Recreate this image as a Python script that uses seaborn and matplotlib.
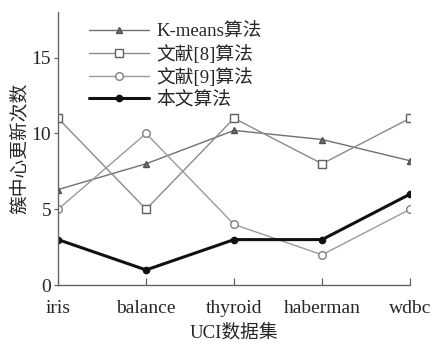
import numpy as np
import pandas as pd
import seaborn as sns
import matplotlib.pyplot as plt

datasets = ["iris", "balance", "thyroid", "haberman", "wdbc"]
kmeans = [6.3, 8.0, 10.2, 9.6, 8.2]
ref8 = [11, 5, 11, 8, 11]
ref9 = [5, 10, 4, 2, 5]
ours = [3, 1, 3, 3, 6]

names = ["K-means算法", "文献[8]算法", "文献[9]算法", "本文算法"]
series = [kmeans, ref8, ref9, ours]

sns.set_style("white")
plt.rcParams['font.family'] = ['Liberation Serif', 'Noto Sans CJK SC']

fig = plt.figure(figsize=(4.4, 3.46), dpi=100)
ax = fig.add_axes([0.132, 0.176, 0.80, 0.789])

x = np.arange(len(datasets))
styles = [
    dict(color="#707070", marker="^", lw=1.0, ms=4.5, mfc="#707070", mec="#505050"),
    dict(color="#8a8a8a", marker="s", lw=1.0, ms=5.5, mfc="white", mec="#606060"),
    dict(color="#9a9a9a", marker="o", lw=1.0, ms=5.5, mfc="white", mec="#808080"),
    dict(color="#111111", marker="o", lw=2.2, ms=4.5, mfc="#111111", mec="#111111"),
]
for name, vals, st in zip(names, series, styles):
    df = pd.DataFrame({"x": x, "y": vals})
    sns.lineplot(data=df, x="x", y="y", ax=ax, label=name, color=st["color"],
                 marker=st["marker"], linewidth=st["lw"], markersize=st["ms"],
                 markerfacecolor=st["mfc"], markeredgecolor=st["mec"],
                 markeredgewidth=1.0)

ax.set_xlim(0, 4)
ax.set_ylim(0, 18)
ax.set_xticks(x)
ax.set_xticklabels(datasets, fontsize=14)
ax.set_yticks([0, 5, 10, 15])
ax.tick_params(axis="y", labelsize=14, direction="out", length=3, color="#555555", left=True, pad=2)
ax.tick_params(axis="x", direction="in", length=5, color="#555555", pad=11, bottom=True)
ax.set_xlabel("UCI数据集", fontsize=13.5, labelpad=5)
ax.set_ylabel("簇中心更新次数", fontsize=13.5, labelpad=2)
for s in ["top", "right"]:
    ax.spines[s].set_visible(False)
for s in ["left", "bottom"]:
    ax.spines[s].set_color("#666666")
    ax.spines[s].set_linewidth(1.0)

leg = ax.legend(loc="upper left", bbox_to_anchor=(0.04, 1.02), frameon=False,
                fontsize=13.5, handlelength=3.2, handletextpad=0.4, labelspacing=0.22)

fig.savefig("out.png", dpi=100)
